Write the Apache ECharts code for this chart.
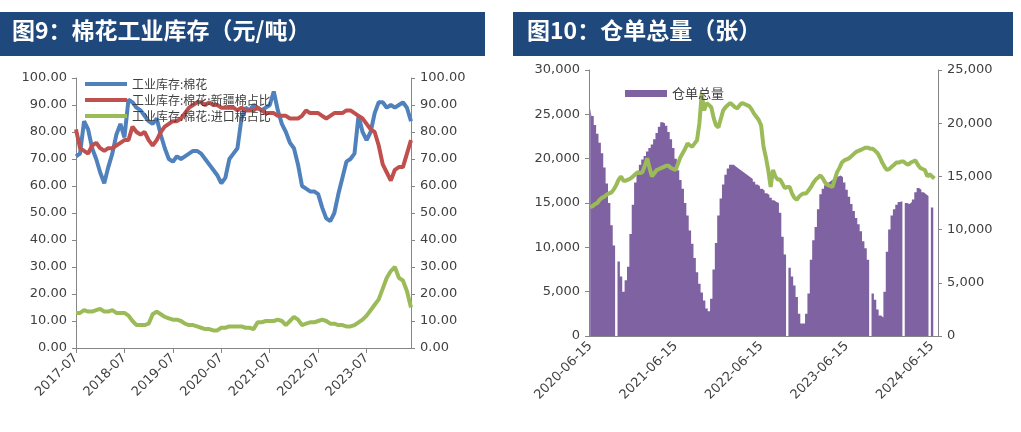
<!DOCTYPE html>
<html><head><meta charset="utf-8">
<script src="https://cdn.jsdelivr.net/npm/echarts@6/dist/echarts.min.js"></script>
<style>html,body{margin:0;padding:0;background:#fff}#c{width:1021px;height:432px}</style>
</head><body><div id="c"></div>
<script>
// ---------- Left chart: 棉花工业库存 (monthly, 2017-07 .. 2024-06) ----------
const leftTitle = '图9：棉花工业库存（元/吨）';
const stockNames = ['工业库存:棉花', '工业库存:棉花:新疆棉占比', '工业库存:棉花:进口棉占比'];
const stockTotal = [71,72,84,81,74,70,65,61,67,72, 79,83,78,92,91,89,88,86,84,83,
  85,79,74,70,69,71,70,71,72,73, 73,72,70,68,66,64,61,63,70,72,
  74,85,89,88,90,89,88,89,90,95, 88,83,80,76,74,68,60,59,58,58,
  57,52,48,47,50,57,63,69,70,72, 86,80,77,80,87,91,91,89,90,89, 90,91,89,84];
const xinjiangShare = [81,74,73,72,75,76,74,73,74,74, 75,76,77,77,82,80,79,80,77,75,
  77,80,82,83,84,84,85,87,89,90, 91,91,90,91,90,90,89,89,89,89,
  88,89,88,88,88,89,88,87,87,87, 86,86,86,85,85,85,86,88,87,87,
  87,86,85,86,87,87,87,88,88,87, 86,85,83,81,80,75,68,65,62,66, 67,67,72,77];
const importShare = [13,13,14,13.5,13.5,14,14.5,13.5,13.5,14, 13,13,13,12,10,8.5,8.5,8.5,9,12.5,
  13.5,12.5,11.5,11,10.5,10.5,10,9,8.5,8.5, 8,7.5,7,7,6.5,6.5,7.5,7.5,8,8,
  8,8,7.5,7.5,7,9.5,9.5,10,10,10, 10.5,10,8.5,10,11.5,10.5,8.5,9,9.5,9.5,
  10,10.5,10,9,9,8.5,8.5,8,8,8.5, 9.5,10.5,12,14,16,18,22,26,28.5,30, 26,25,21,15];
const leftStart = [2017, 7];
const monthLabels = [];
for (let i = 0; i < stockTotal.length; i++) {
  const t = leftStart[1] - 1 + i;
  monthLabels.push((leftStart[0] + Math.floor(t / 12)) + '-' + String(t % 12 + 1).padStart(2, '0'));
}
const leftAxisMin = 0, leftAxisMax = 100, leftAxisStep = 10;

// ---------- Right chart: 仓单总量 (every 10 days, 2020-06-15 .. ) ----------
const rightTitle = '图10：仓单总量（张）';
const warrantName = '仓单总量';
const priceName = '棉花期货价格';
const warrantTotal = [25700,24800,23800,22800,21800,20600,19000,17200,15000,12500,
  10200,0,8400,6700,5000,6300,7800,11500,14800,17300,
  18600,19300,19900,20300,20800,21200,21600,22200,22900,23600,
  24100,24000,23700,23000,22200,21200,20000,18700,17600,16600,
  15000,13600,11900,10400,8800,7200,5900,4900,4000,3100,
  2800,4200,7500,10500,13600,15500,17100,18200,18900,19300,
  19300,19100,18900,18700,18500,18300,18100,17900,17700,17400,
  17100,16900,16600,16400,16100,15900,15600,15300,15100,15000,
  13900,11200,9200,0,7700,6700,5700,4400,2500,1400,
  1400,2500,4800,8600,10800,12300,14300,16000,16600,17000,
  17300,17500,17700,17900,18000,18100,17900,17300,16500,15700,
  14900,14100,13300,12600,11800,10700,9900,8600,0,4800,
  4100,3000,2300,2100,5000,9500,12000,13600,14300,14800,
  15100,15200,0,15000,14900,15100,15400,16200,16700,16500,
  16200,16000,15800,0,14500,0,null];
const cottonPrice = [12100,12200,12400,12500,12800,13000,13100,13300,13400,13500,
  13800,14200,14700,15000,14600,14600,14700,14800,15000,15200,
  15400,15300,15400,16000,16700,15800,15000,15300,15600,15700,
  15800,15900,16000,16000,15800,15700,15600,16200,16800,17200,
  17600,18100,17900,17800,18100,18400,20000,22800,21200,21900,
  21700,21500,20500,19800,19600,20400,21200,21500,21700,21900,
  21700,21500,21400,21700,21900,21800,21700,21600,21300,20900,
  20600,20300,19800,17800,16800,15600,14000,15600,15000,14700,
  14700,14300,13900,14000,14000,13400,13000,12800,13100,13300,
  13400,13400,13700,14000,14400,14700,14900,15100,14800,14400,
  14200,14100,14000,14700,15400,15800,16300,16500,16600,16700,
  16900,17100,17300,17400,17500,17600,17700,17700,17600,17600,
  17400,17200,16800,16300,15900,15600,15700,15900,16100,16300,
  16300,16400,16400,16200,16100,16300,16400,16500,16100,15800,
  15700,15600,15000,15200,15000,14800,null];
const dekadDays = [5, 15, 25];
const rightStart = [2020, 6, 1]; // year, month, index into dekadDays (15th)
const warrantDates = [];
for (let k = 0; k < warrantTotal.length; k++) {
  const t = rightStart[2] + k;
  const mo = rightStart[1] - 1 + Math.floor(t / 3);
  warrantDates.push((rightStart[0] + Math.floor(mo / 12)) + '-' + String(mo % 12 + 1).padStart(2, '0') + '-' + String(dekadDays[t % 3]).padStart(2, '0'));
}
const warrantAxisMax = 30000, priceAxisMax = 25000, rightAxisStep = 5000;

// ---------- styles ----------
const barBlue = '#1F497D';
const axisGray = '#868686';
const labelColor = '#404040';
const purple = '#7E62A1';
const numFont = "'DejaVu Sans', 'Noto Sans CJK SC', sans-serif";
const cjkFont = "'Noto Sans CJK SC', sans-serif";

function yAx(grid, pos, max, step, fmt) {
  return {
    type: 'value', gridIndex: grid, position: pos, min: 0, max: max, interval: step,
    splitLine: { show: false },
    axisLine: { show: true, lineStyle: { color: axisGray, width: 1 } },
    axisTick: { show: true, length: 4, lineStyle: { color: axisGray } },
    axisLabel: { color: labelColor, fontSize: 13, fontFamily: numFont, margin: 9, formatter: fmt }
  };
}
const fmt2 = v => v.toFixed(2);
const fmtK = v => v.toLocaleString('en-US');

const chart = echarts.init(document.getElementById('c'), null, { renderer: 'canvas' });
chart.setOption({
  animation: false,
  textStyle: { fontFamily: numFont },
  graphic: [
    { type: 'rect', z: -10, shape: { x: 0, y: 12, width: 485, height: 44 }, style: { fill: barBlue } },
    { type: 'rect', z: -10, shape: { x: 513, y: 12, width: 500, height: 44 }, style: { fill: barBlue } }
  ],
  title: [
    { text: leftTitle, left: 12, top: 19, padding: 0, textStyle: { color: '#fff', fontSize: 23, fontWeight: 'bold', fontFamily: cjkFont } },
    { text: rightTitle, left: 527, top: 19, padding: 0, textStyle: { color: '#fff', fontSize: 23, fontWeight: 'bold', fontFamily: cjkFont } }
  ],
  legend: [
    { data: stockNames, orient: 'vertical', left: 80, top: 73, icon: 'rect', itemWidth: 42, itemHeight: 4, itemGap: 4,
      textStyle: { fontSize: 12, color: labelColor, fontFamily: cjkFont } },
    { data: [warrantName], left: 620, top: 82, icon: 'rect', itemWidth: 42, itemHeight: 7,
      textStyle: { fontSize: 13, color: labelColor, fontFamily: cjkFont } }
  ],
  grid: [
    { left: 76, right: 610, top: 78, bottom: 84, containLabel: false },
    { left: 589, right: 83, top: 70, bottom: 96, containLabel: false }
  ],
  xAxis: [
    { type: 'category', gridIndex: 0, data: monthLabels, boundaryGap: false,
      axisLine: { lineStyle: { color: axisGray } },
      axisTick: { interval: 11, length: 5, lineStyle: { color: axisGray } },
      axisLabel: { interval: 11, rotate: 45, color: labelColor, fontSize: 13, fontFamily: numFont, margin: 8 } },
    { type: 'category', gridIndex: 1, data: warrantDates, boundaryGap: true,
      axisLine: { lineStyle: { color: axisGray }, z: 5 },
      axisTick: { interval: 35, length: 5, lineStyle: { color: axisGray } },
      axisLabel: { interval: 35, rotate: 45, color: labelColor, fontSize: 13, fontFamily: numFont, margin: 8 } }
  ],
  yAxis: [
    yAx(0, 'left', leftAxisMax, leftAxisStep, fmt2),
    yAx(0, 'right', leftAxisMax, leftAxisStep, fmt2),
    yAx(1, 'left', warrantAxisMax, rightAxisStep, fmtK),
    yAx(1, 'right', priceAxisMax, rightAxisStep, fmtK)
  ],
  series: [
    { name: stockNames[0], type: 'line', xAxisIndex: 0, yAxisIndex: 0, data: stockTotal, symbol: 'none',
      lineStyle: { width: 4, color: '#4F81BD' }, itemStyle: { color: '#4F81BD' } },
    { name: stockNames[1], type: 'line', xAxisIndex: 0, yAxisIndex: 0, data: xinjiangShare, symbol: 'none',
      lineStyle: { width: 4, color: '#C0504D' }, itemStyle: { color: '#C0504D' } },
    { name: stockNames[2], type: 'line', xAxisIndex: 0, yAxisIndex: 1, data: importShare, symbol: 'none',
      lineStyle: { width: 4, color: '#9BBB59' }, itemStyle: { color: '#9BBB59' } },
    // column-style total drawn as a stepped filled area (one step per category band)
    { name: warrantName, type: 'line', step: 'middle', xAxisIndex: 1, yAxisIndex: 2, data: warrantTotal, symbol: 'none',
      lineStyle: { width: 0, color: purple }, itemStyle: { color: purple },
      areaStyle: { color: purple, opacity: 1 } },
    { name: priceName, type: 'line', xAxisIndex: 1, yAxisIndex: 3, data: cottonPrice, symbol: 'none',
      lineStyle: { width: 4, color: '#9BBB59' }, itemStyle: { color: '#9BBB59' } }
  ]
});
</script></body></html>
